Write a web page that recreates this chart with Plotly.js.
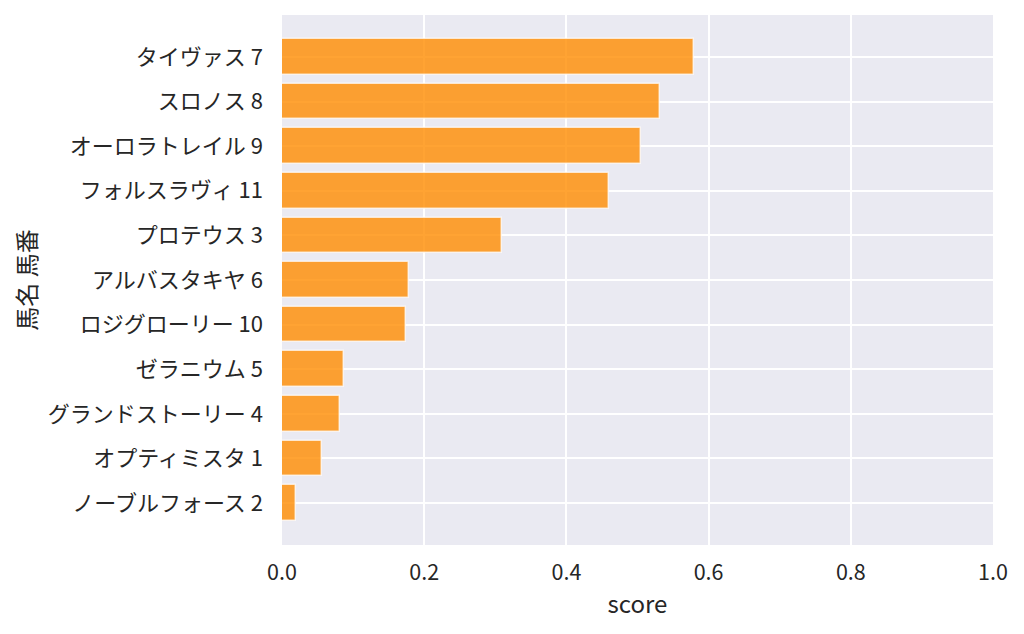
<!DOCTYPE html>
<html>
<head>
<meta charset="utf-8">
<script src="https://cdn.plot.ly/plotly-3.0.1.min.js"></script>
<style>
  html, body { margin: 0; padding: 0; background: #ffffff; }
  #chart { width: 1024px; height: 634px; }
</style>
</head>
<body>
<div id="chart"></div>
<script>
// horse labels, top to bottom as shown
const horseLabels = [
    'タイヴァス 7',
    'スロノス 8',
    'オーロラトレイル 9',
    'フォルスラヴィ 11',
    'プロテウス 3',
    'アルバスタキヤ 6',
    'ロジグローリー 10',
    'ゼラニウム 5',
    'グランドストーリー 4',
    'オプティミスタ 1',
    'ノーブルフォース 2'
];
const scores = [0.579, 0.532, 0.505, 0.460, 0.309, 0.179, 0.174, 0.087, 0.081, 0.056, 0.020];
const xTicks = [0.0, 0.2, 0.4, 0.6, 0.8, 1.0];
const xTickText = ['0.0', '0.2', '0.4', '0.6', '0.8', '1.0'];

const FONT = '"Noto Sans CJK JP", "Noto Sans", sans-serif';
const TEXT_COLOR = '#262626';

const n = horseLabels.length;

const trace = {
    type: 'bar',
    orientation: 'h',
    x: scores,
    y: horseLabels,
    width: 0.8,
    marker: {
        color: 'rgba(255,140,0,0.8)',
        line: { color: 'rgba(255,255,255,0.7)', width: 1.5 }
    },
    hoverinfo: 'x+y'
};

const layout = {
    width: 1024,
    height: 634,
    paper_bgcolor: '#ffffff',
    plot_bgcolor: '#EAEAF2',
    font: { family: FONT, color: TEXT_COLOR, size: 22 },
    margin: { l: 282, r: 31, t: 15, b: 89 },
    showlegend: false,
    bargap: 0,
    xaxis: {
        range: [0, 1],
        tickvals: xTicks,
        ticktext: xTickText,
        showgrid: true,
        gridcolor: '#ffffff',
        gridwidth: 1.5,
        zeroline: false,
        showline: false,
        ticks: '',
        ticklabelstandoff: 12,
        tickfont: { size: 21.5 },
        title: { text: 'score', font: { size: 24 }, standoff: 11 }
    },
    yaxis: {
        type: 'category',
        categoryorder: 'array',
        categoryarray: horseLabels,
        range: [n - 1 + 0.94, -0.94],
        showgrid: true,
        gridcolor: '#ffffff',
        gridwidth: 1.5,
        zeroline: false,
        showline: false,
        ticks: '',
        ticklabelstandoff: 18,
        tickfont: { size: 22 },
        title: { text: '馬名 馬番', font: { size: 24 }, standoff: 4 }
    }
};

Plotly.newPlot('chart', [trace], layout, { displayModeBar: false, responsive: false });
</script>
</body>
</html>
